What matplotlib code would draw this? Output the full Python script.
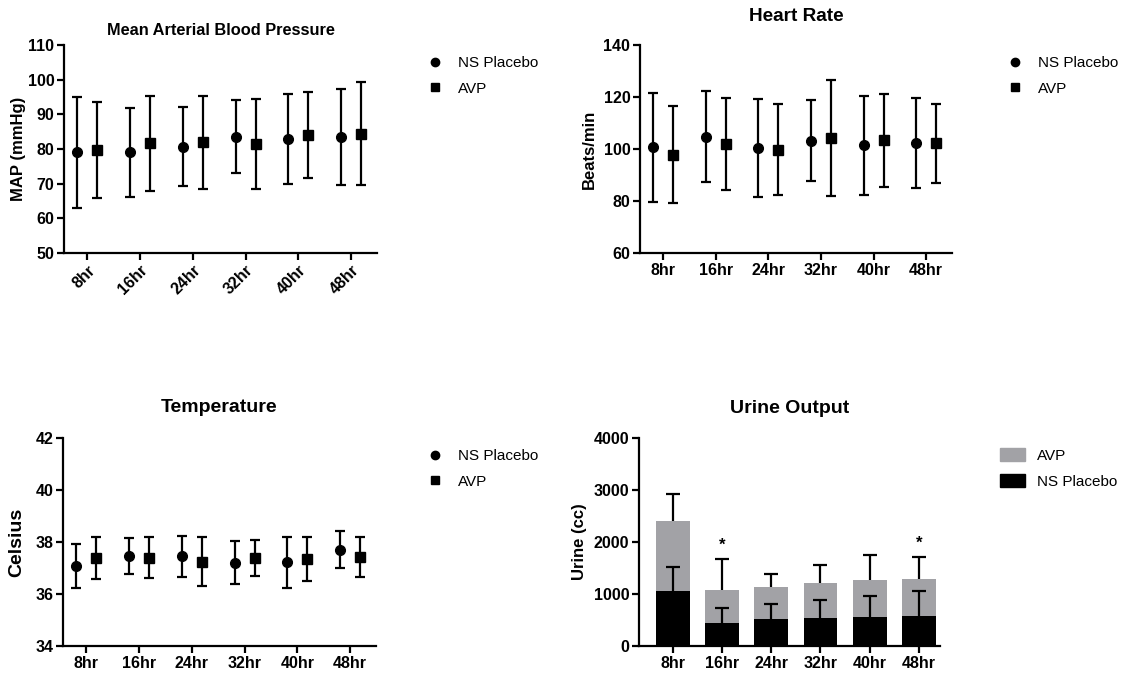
import numpy as np
import matplotlib
matplotlib.use("Agg")
import matplotlib.pyplot as plt
from matplotlib.lines import Line2D
from matplotlib.patches import Patch

plt.rcParams['font.family'] = ['Liberation Sans', 'DejaVu Sans']

hours = ['8hr', '16hr', '24hr', '32hr', '40hr', '48hr']

# mean arterial pressure (mean, sd)
map_ns = [79.0, 79.0, 80.7, 83.6, 82.8, 83.4]
map_ns_sd = [16.0, 12.9, 11.4, 10.5, 13.0, 13.8]
map_avp = [79.8, 81.7, 82.0, 81.4, 84.0, 84.4]
map_avp_sd = [13.9, 13.7, 13.4, 12.9, 12.4, 14.8]

# heart rate
hr_ns = [100.6, 104.7, 100.3, 103.2, 101.4, 102.4]
hr_ns_sd = [21.0, 17.5, 18.8, 15.5, 19.0, 17.3]
hr_avp = [97.8, 101.9, 99.7, 104.3, 103.3, 102.3]
hr_avp_sd = [18.7, 17.6, 17.5, 22.2, 17.9, 15.2]

# temperature
temp_ns = [37.07, 37.47, 37.45, 37.20, 37.23, 37.71]
temp_ns_sd = [0.84, 0.70, 0.78, 0.83, 0.98, 0.71]
temp_avp = [37.38, 37.39, 37.25, 37.38, 37.34, 37.42]
temp_avp_sd = [0.80, 0.79, 0.96, 0.70, 0.85, 0.77]

# urine output
urine_avp = [2403, 1080, 1144, 1214, 1272, 1297]
urine_avp_sd = [511, 588, 249, 345, 479, 422]
urine_ns = [1067, 441, 511, 543, 550, 569]
urine_ns_sd = [460, 294, 301, 339, 415, 492]
sig_marks = ['', '*', '', '', '', '*']

W, H = 1128, 674
fig = plt.figure(figsize=(W / 100, H / 100), dpi=100)


def px_axes(x0, y0, x1, y1):
    return fig.add_axes([x0 / W, 1 - y1 / H, (x1 - x0) / W, (y1 - y0) / H])


def style(ax):
    for s in ['top', 'right']:
        ax.spines[s].set_visible(False)
    for s in ['left', 'bottom']:
        ax.spines[s].set_linewidth(1.6)
    ax.tick_params(width=1.6, length=5, labelsize=11.5, pad=2)
    for lab in ax.get_xticklabels() + ax.get_yticklabels():
        lab.set_fontweight('bold')


def dot_panel(ax, ns, ns_sd, avp, avp_sd, ylim, yticks):
    x = np.arange(len(hours))
    off = 0.19
    ax.errorbar(x - off, ns, yerr=ns_sd, fmt='o', color='black', ms=7,
                elinewidth=1.6, capsize=3.8, capthick=1.6)
    ax.errorbar(x + off, avp, yerr=avp_sd, fmt='s', color='black', ms=6.5,
                elinewidth=1.6, capsize=3.8, capthick=1.6)
    ax.set_xlim(-0.44, 5.49)
    ax.set_ylim(*ylim)
    ax.set_yticks(yticks)
    ax.set_xticks(x)
    ax.set_xticklabels(hours)
    style(ax)


def dot_legend(ax, x, y):
    h = [Line2D([], [], marker='o', ls='none', color='black', ms=6),
         Line2D([], [], marker='s', ls='none', color='black', ms=5.5)]
    ax.legend(h, ['NS Placebo', 'AVP'], loc='upper left',
              bbox_to_anchor=(x / W, 1 - y / H), bbox_transform=fig.transFigure,
              frameon=False, fontsize=11, handletextpad=0.9, labelspacing=0.75,
              handlelength=1.2, borderaxespad=0)


# Mean arterial blood pressure
ax1 = px_axes(64, 45, 377, 253)
dot_panel(ax1, map_ns, map_ns_sd, map_avp, map_avp_sd, (50, 110), range(50, 111, 10))
for lab in ax1.get_xticklabels():
    lab.set_rotation(45)
    lab.set_ha('right')
    lab.set_rotation_mode('anchor')
ax1.set_title('Mean Arterial Blood Pressure', fontsize=11.8, fontweight='bold', pad=7.5)
ax1.set_ylabel('MAP (mmHg)', fontsize=12, fontweight='bold', labelpad=1)
dot_legend(ax1, 420, 50)

# Heart rate
ax2 = px_axes(640, 45, 952, 253)
dot_panel(ax2, hr_ns, hr_ns_sd, hr_avp, hr_avp_sd, (60, 140), range(60, 141, 20))
ax2.set_title('Heart Rate', fontsize=13.7, fontweight='bold', pad=17)
ax2.set_ylabel('Beats/min', fontsize=12, fontweight='bold', labelpad=5)
dot_legend(ax2, 1000, 50)

# Temperature
ax3 = px_axes(63, 438, 376, 646)
dot_panel(ax3, temp_ns, temp_ns_sd, temp_avp, temp_avp_sd, (34, 42), range(34, 43, 2))
ax3.set_title('Temperature', fontsize=14, fontweight='bold', pad=18.5)
ax3.set_ylabel('Celsius', fontsize=14, fontweight='bold', labelpad=7)
dot_legend(ax3, 420, 443)

# Urine output
ax4 = px_axes(639, 438, 940, 646)
x = np.arange(len(hours))
bw = 0.69
ax4.errorbar(x, urine_avp, yerr=[urine_avp, urine_avp_sd], fmt='none', ecolor='black',
             elinewidth=1.6, capsize=4.8, capthick=1.6, zorder=1)
ax4.bar(x, urine_avp, width=bw, color='#a2a2a6', zorder=2)
ax4.errorbar(x, urine_ns, yerr=[urine_ns, urine_ns_sd], fmt='none', ecolor='black',
             elinewidth=1.6, capsize=4.8, capthick=1.6, zorder=3)
ax4.bar(x, urine_ns, width=bw, color='black', zorder=4)
for i, m in enumerate(sig_marks):
    if m:
        top = urine_avp[i] + urine_avp_sd[i]
        ax4.text(x[i], top + 120, m, ha='center', va='bottom', fontsize=12,
                 fontweight='bold')
ax4.set_xlim(-0.69, 5.43)
ax4.set_ylim(0, 4000)
ax4.set_yticks(range(0, 4001, 1000))
ax4.set_xticks(x)
ax4.set_xticklabels(hours)
style(ax4)
ax4.set_title('Urine Output', fontsize=14, fontweight='bold', pad=18)
ax4.set_ylabel('Urine (cc)', fontsize=12, fontweight='bold', labelpad=5)
ph = [Patch(color='#a2a2a6'), Patch(color='black')]
ax4.legend(ph, ['AVP', 'NS Placebo'], loc='upper left',
           bbox_to_anchor=(994 / W, 1 - 442 / H), bbox_transform=fig.transFigure,
           frameon=False, fontsize=11, handletextpad=0.8, labelspacing=0.75,
           handlelength=1.6, handleheight=0.9, borderaxespad=0)

fig.savefig('out.png', dpi=100)
